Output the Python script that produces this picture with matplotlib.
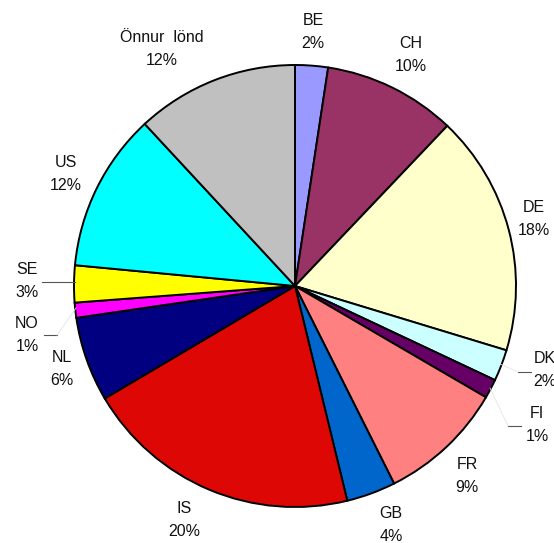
import matplotlib.pyplot as plt

# share of each country (clockwise from 12 o'clock)
countries = ["BE", "CH", "DE", "DK", "FI", "FR", "GB", "IS", "NL", "NO", "SE", "US", "Önnur  lönd"]
shares = [2.4, 9.7, 17.6, 2.3, 1.4, 9.2, 3.6, 20.3, 6.2, 1.1, 2.7, 11.6, 11.9]
colors = ["#9999FF", "#993366", "#FFFFCC", "#CCFFFF", "#660066", "#FF8080", "#0066CC",
          "#DD0806", "#000080", "#FF00FF", "#FFFF00", "#00FFFF", "#C0C0C0"]

# label centres in pixels of the original picture
label_px = [(313, 32), (411, 55), (534, 219), (545, 370), (537, 425), (467, 476), (391, 525),
            (184, 520), (62, 369), (27, 335), (27, 281), (66, 174), (162, 49)]

W, H = 554, 543
cx, cy, R = 295, 286, 221

def to_data(px, py):
    return (px - cx) / R, (cy - py) / R

plt.rcParams['font.family'] = ['Liberation Sans', 'DejaVu Sans']

fig = plt.figure(figsize=(W / 100, H / 100), dpi=100)
ax = fig.add_axes([0, 0, 1, 1])

ax.pie(shares, colors=colors, startangle=90, counterclock=False, radius=1,
       wedgeprops=dict(edgecolor="black", linewidth=1.4))

ax.set_xlim(-cx / R, (W - cx) / R)
ax.set_ylim(-(H - cy) / R, cy / R)
ax.set_aspect('auto')
ax.axis('off')

total = sum(shares)
for name, val, (px, py) in zip(countries, shares, label_px):
    x, y = to_data(px, py)
    ax.text(x, y, f"{name}\n{round(val / total * 100):d}%", ha="center", va="center",
            fontsize=11.5, color="#111111", linespacing=1.6)

# leader lines for the small slices
leaders = [
    [(42, 282), (75, 282)],                 # SE
    [(44, 335), (57, 335)],                 # NO
    [(518, 372), (531, 372)],               # DK
    [(508, 426), (521, 426)],               # FI
]
faint = [
    [(518, 372), (500, 364)],
    [(508, 426), (490, 388)],
    [(57, 335), (76, 308)],
]
for seg in leaders:
    xs, ys = zip(*[to_data(*p) for p in seg])
    ax.plot(xs, ys, color="#555555", linewidth=0.8)
for seg in faint:
    xs, ys = zip(*[to_data(*p) for p in seg])
    ax.plot(xs, ys, color="#E4E4E4", linewidth=0.6)

fig.savefig("out.png", dpi=100)
